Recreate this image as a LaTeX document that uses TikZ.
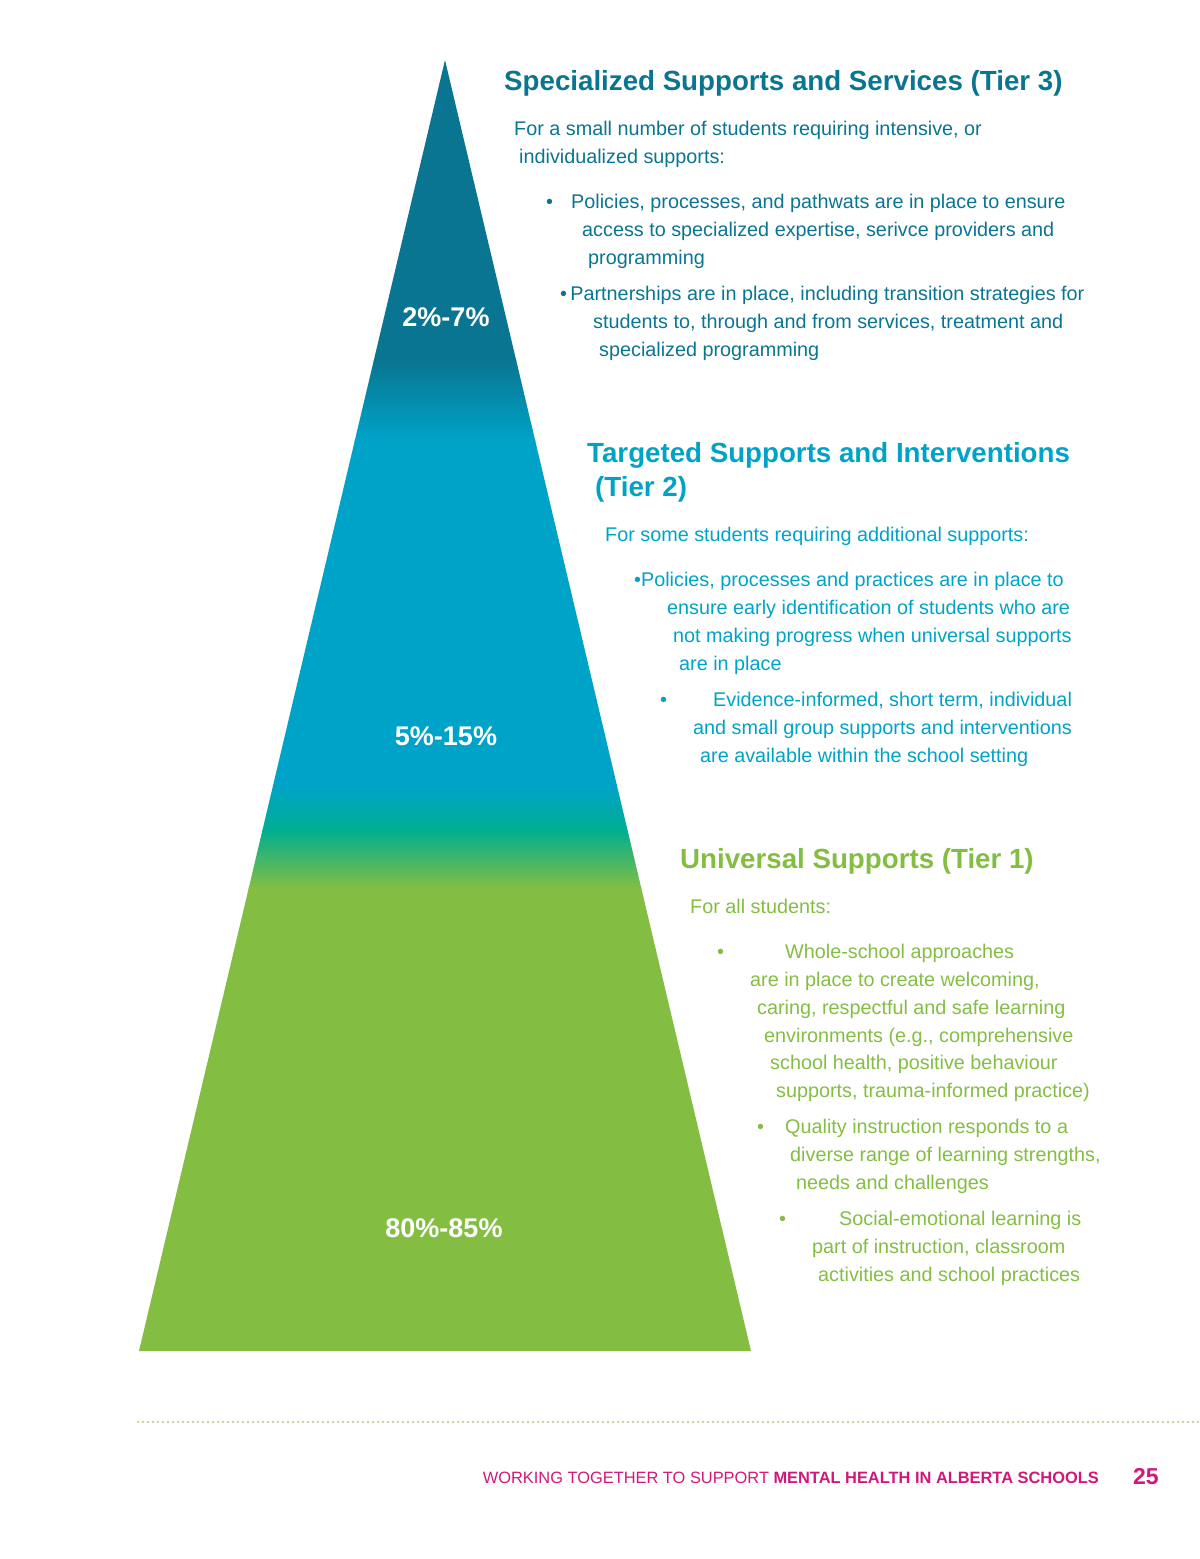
\documentclass[tikz,border=0pt]{standalone}
\usepackage{fontspec}
\setmainfont{Liberation Sans}
\usetikzlibrary{positioning}

\definecolor{tierthree}{HTML}{0A7591}
\definecolor{tiertwo}{HTML}{00A3C8}
\definecolor{tealmid}{HTML}{00AE90}
\definecolor{tierone}{HTML}{83BE42}
\definecolor{pagepink}{HTML}{D0187A}
\definecolor{dotline}{HTML}{BFC17C}

\begin{document}
\begin{tikzpicture}[x=1pt, y=-1pt,
    title/.style={anchor=base west, inner sep=0pt, font=\fontsize{27.7}{32}\selectfont\bfseries},
    body/.style={anchor=base west, inner sep=0pt, font=\fontsize{19.8}{28}\selectfont},
    percent/.style={inner sep=0pt, text=white, font=\fontsize{27}{32}\selectfont\bfseries}
]
\useasboundingbox (0,0) rectangle (1200,1559);

% Pyramid
\coordinate (apex) at (445,60);
\coordinate (baseL) at (139,1351);
\coordinate (baseR) at (751,1351);
\begin{scope}
    \clip (apex) -- (baseR) -- (baseL) -- cycle;
    \fill[tierthree] (120,50) rectangle (770,361);
    \shade[top color=tierthree, bottom color=tiertwo] (120,360) rectangle (770,441);
    \fill[tiertwo] (120,440) rectangle (770,786);
    \shade[top color=tiertwo, bottom color=tealmid] (120,785) rectangle (770,831);
    \shade[top color=tealmid, bottom color=tierone] (120,830) rectangle (770,888);
    \fill[tierone] (120,887) rectangle (770,1360);
\end{scope}

% Percentages
\node[percent] (pct3) at (446,317) {2\%-7\%};
\node[percent] (pct2) at (446,736) {5\%-15\%};
\node[percent] (pct1) at (444,1228) {80\%-85\%};

% Tier 3: Specialized
\begin{scope}[text=tierthree]
\node[title] (t3title) at (504,90) {Specialized Supports and Services (Tier 3)};
\node[body] (t3intro1) at (514,135) {For a small number of students requiring intensive, or};
\node[body] (t3intro2) at (519,163) {individualized supports:};
\node[body] (t3bulA) at (546,208) {•};
\node[body] (t3a1) at (571,208) {Policies, processes, and pathwats are in place to ensure};
\node[body] (t3a2) at (582,236) {access to specialized expertise, serivce providers and};
\node[body] (t3a3) at (588,264) {programming};
\node[body] (t3b1) at (560,300) {•\,Partnerships are in place, including transition strategies for};
\node[body] (t3b2) at (593,328) {students to, through and from services, treatment and};
\node[body] (t3b3) at (599,356) {specialized programming};
\end{scope}

% Tier 2: Targeted
\begin{scope}[text=tiertwo]
\node[title] (t2title1) at (587,462) {Targeted Supports and Interventions};
\node[title] (t2title2) at (595,496) {(Tier 2)};
\node[body] (t2intro) at (605,541) {For some students requiring additional supports:};
\node[body] (t2a1) at (634,586) {•Policies, processes and practices are in place to};
\node[body] (t2a2) at (667,614) {ensure early identification of students who are};
\node[body] (t2a3) at (673,642) {not making progress when universal supports};
\node[body] (t2a4) at (679,670) {are in place};
\node[body] (t2bulB) at (660,706) {•};
\node[body] (t2b1) at (713,706) {Evidence-informed, short term, individual};
\node[body] (t2b2) at (693,734) {and small group supports and interventions};
\node[body] (t2b3) at (700,762) {are available within the school setting};
\end{scope}

% Tier 1: Universal
\begin{scope}[text=tierone]
\node[title] (t1title) at (680,868) {Universal Supports (Tier 1)};
\node[body] (t1intro) at (690,913) {For all students:};
\node[body] (t1bulA) at (717,958) {•};
\node[body] (t1a1) at (785,958) {Whole-school approaches};
\node[body] (t1a2) at (750,986) {are in place to create welcoming,};
\node[body] (t1a3) at (757,1014) {caring, respectful and safe learning};
\node[body] (t1a4) at (764,1042) {environments (e.g., comprehensive};
\node[body] (t1a5) at (770,1069) {school health, positive behaviour};
\node[body] (t1a6) at (776,1097) {supports, trauma-informed practice)};
\node[body] (t1bulB) at (757,1133) {•};
\node[body] (t1b1) at (785,1133) {Quality instruction responds to a};
\node[body] (t1b2) at (790,1161) {diverse range of learning strengths,};
\node[body] (t1b3) at (796,1189) {needs and challenges};
\node[body] (t1bulC) at (779,1225) {•};
\node[body] (t1c1) at (839,1225) {Social-emotional learning is};
\node[body] (t1c2) at (812,1253) {part of instruction, classroom};
\node[body] (t1c3) at (818,1281) {activities and school practices};
\end{scope}

% Footer
\coordinate (ruleL) at (138,1422);
\coordinate (ruleR) at (1200,1422);
\draw[dotline, line width=2.2pt, dash pattern=on 0pt off 5pt, line cap=round] (ruleL) -- (ruleR);
\node[anchor=base east, inner sep=0pt, text=pagepink, font=\fontsize{16.4}{20}\selectfont] (footer) at (1099,1483)
    {WORKING TOGETHER TO SUPPORT \textbf{MENTAL HEALTH IN ALBERTA SCHOOLS}};
\node[anchor=base west, inner sep=0pt, text=pagepink, font=\fontsize{23}{26}\selectfont\bfseries] (pagenum) at (1133,1484) {25};

\end{tikzpicture}
\end{document}
